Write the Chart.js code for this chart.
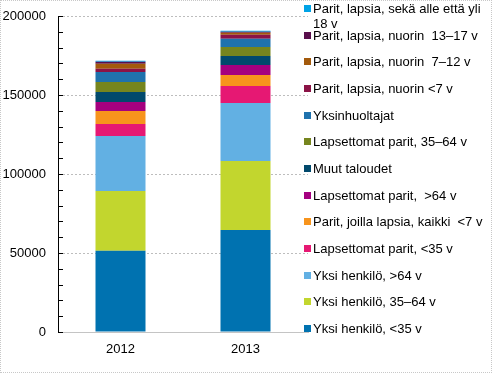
<!DOCTYPE html>
<html lang="fi">
<head>
<meta charset="utf-8">
<title>Asuntokunnat</title>
<script src="https://cdn.jsdelivr.net/npm/chart.js@4/dist/chart.umd.min.js"></script>
<style>
  html, body { margin: 0; padding: 0; background: #fff; }
  #wrap { position: relative; width: 492px; height: 373px; font-family: "Liberation Sans", Arial, sans-serif; }
  #frame { position: absolute; left: 0; top: 0; width: 490px; height: 371px; border: 1px dotted #c8c8c8; pointer-events: none; }
  #legend { position: absolute; left: 303px; top: 0; width: 189px; }
  .item { position: absolute; left: 0; font-size: 13px; line-height: 15px; color: #000; }
  .item .box { position: absolute; left: 1px; top: 4px; width: 7px; height: 7px; }
  .item .txt { position: absolute; left: 10px; top: 0; width: 178px; white-space: pre-wrap; line-height: 15px; }
</style>
</head>
<body>
<div id="wrap">
  <canvas id="chart" width="492" height="373"></canvas>
  <div id="legend"></div>
  <div id="frame"></div>
</div>
<script>
const years = ["2012", "2013"];

// stacking order, bottom to top
const seriesNames = [
  "Yksi henkilö, <35 v",
  "Yksi henkilö, 35–64 v",
  "Yksi henkilö, >64 v",
  "Lapsettomat parit, <35 v",
  "Parit, joilla lapsia, kaikki  <7 v",
  "Lapsettomat parit,  >64 v",
  "Muut taloudet",
  "Lapsettomat parit, 35–64 v",
  "Yksinhuoltajat",
  "Parit, lapsia, nuorin <7 v",
  "Parit, lapsia, nuorin  7–12 v",
  "Parit, lapsia, nuorin  13–17 v",
  "Parit, lapsia, sekä alle että yli 18 v"
];

const seriesColors = [
  "#0072b0", "#c2d62e", "#62b0e3", "#e61873", "#f7941d", "#a5007f", "#01496c",
  "#76851e", "#1f72ad", "#8b1346", "#a35a0c", "#5a0f4c", "#00a3e6"
];

const values2012 = [51450, 37780, 34810, 7590, 8230, 5700, 6330, 6330, 6330, 2090, 3160, 1270, 630];
const values2013 = [64560, 43670, 36710, 10760, 6960, 6330, 5700, 5700, 5250, 2530, 1270, 630, 630];

const yMax = 200000;
const yStep = 10000;
const labelStep = 50000;

const insideTicks = {
  id: "insideTicks",
  afterDraw(chart) {
    const y = chart.scales.y;
    const ctx = chart.ctx;
    ctx.save();
    ctx.strokeStyle = "#000";
    ctx.lineWidth = 1;
    y.ticks.forEach((t) => {
      const py = Math.round(y.getPixelForValue(t.value)) + 0.5;
      ctx.beginPath();
      ctx.moveTo(y.right, py);
      ctx.lineTo(y.right + 5, py);
      ctx.stroke();
    });
    ctx.restore();
  }
};

function buildLegend() {
  const legend = document.getElementById("legend");
  const order = seriesNames.map((_, i) => i).reverse();
  legend.innerHTML = order
    .map((idx, row) => {
      const top = (8.3 + row * 26.67 - 7.5).toFixed(1);
      const text = seriesNames[idx].replace(/</g, "&lt;").replace(/>/g, "&gt;");
      return `<div class="item" style="top:${top}px"><span class="box" style="background:${seriesColors[idx]}"></span><span class="txt">${text}</span></div>`;
    })
    .join("");
}

function buildChart() {
  const ctx = document.getElementById("chart").getContext("2d");
  return new Chart(ctx, {
    type: "bar",
    data: {
      labels: years,
      datasets: seriesNames.map((name, i) => ({
        label: name,
        data: [values2012[i], values2013[i]],
        backgroundColor: seriesColors[i],
        borderWidth: 0,
        categoryPercentage: 1,
        barPercentage: 0.4
      }))
    },
    options: {
      responsive: false,
      devicePixelRatio: 1,
      animation: false,
      layout: { padding: { top: 16, right: 184, bottom: 0, left: 0 } },
      plugins: { legend: { display: false }, tooltip: { enabled: false } },
      font: { family: "'Liberation Sans', Arial, sans-serif", size: 13 },
      scales: {
        x: {
          stacked: true,
          grid: { display: false, drawTicks: false },
          border: { display: true, color: "#c4c4c4", width: 1 },
          ticks: { color: "#000", padding: 10, font: { size: 13 } },
          afterFit: (s) => {
            s.height = 41;
            s.paddingLeft = 0;
            s.paddingRight = 0;
          }
        },
        y: {
          stacked: true,
          min: 0,
          max: yMax,
          grid: {
            drawTicks: false,
            color: (c) => (c.tick && c.tick.value % labelStep === 0 && c.tick.value > 0 ? "#bdbdbd" : "rgba(0,0,0,0)")
          },
          border: { display: true, color: "#000", width: 1, dash: [2, 2] },
          ticks: {
            stepSize: yStep,
            maxTicksLimit: 25,
            autoSkip: false,
            color: "#000",
            padding: 12,
            font: { size: 13 },
            callback: (v) => (v % labelStep === 0 ? String(v) : "")
          },
          afterFit: (s) => {
            s.width = 58;
            s.paddingTop = 0;
            s.paddingBottom = 0;
          }
        }
      }
    },
    plugins: [insideTicks]
  });
}

document.addEventListener("DOMContentLoaded", () => {
  buildLegend();
  window.chart = buildChart();
});
</script>
</body>
</html>
